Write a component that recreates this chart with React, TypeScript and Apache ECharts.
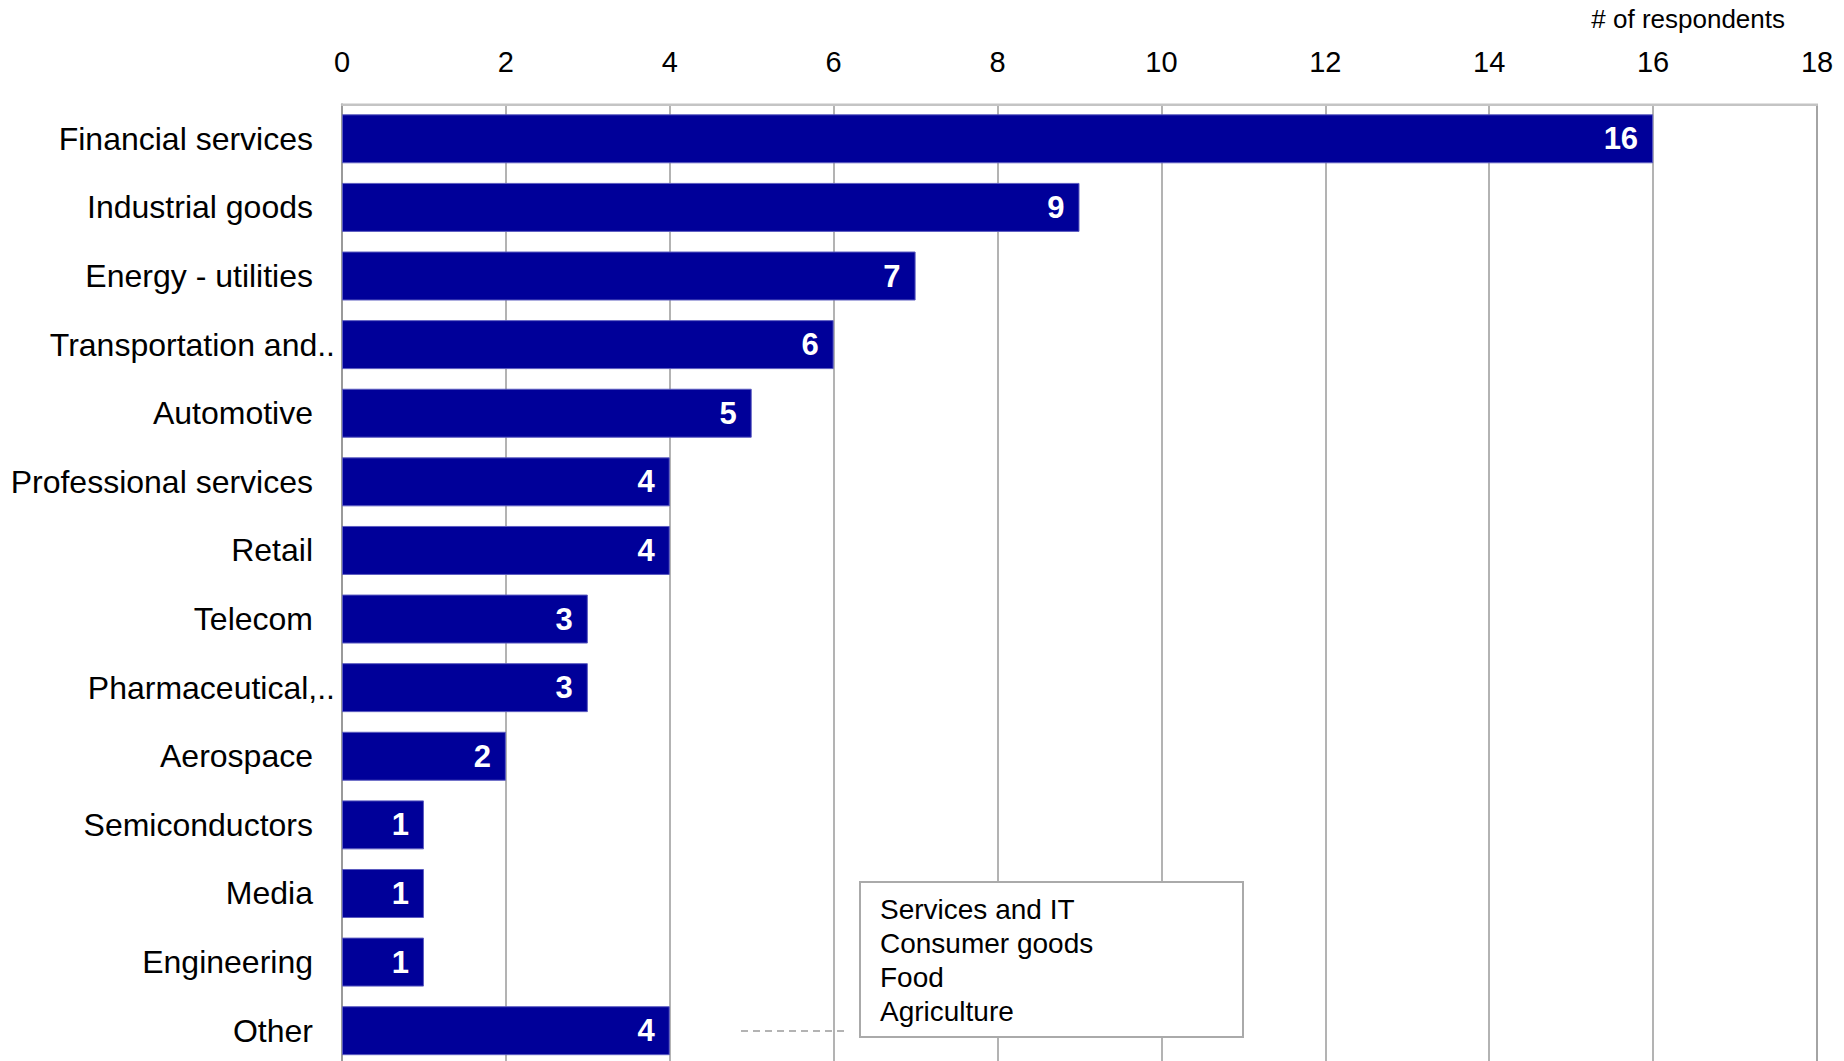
import React, { useEffect, useRef } from "react";
import * as echarts from "echarts";

const categories = [
  "Financial services",
  "Industrial goods",
  "Energy - utilities",
  "Transportation and..",
  "Automotive",
  "Professional services",
  "Retail",
  "Telecom",
  "Pharmaceutical,..",
  "Aerospace",
  "Semiconductors",
  "Media",
  "Engineering",
  "Other",
];
const values = [16, 9, 7, 6, 5, 4, 4, 3, 3, 2, 1, 1, 1, 4];
const otherBreakdown = ["Services and IT", "Consumer goods", "Food", "Agriculture"];
const axisTitle = "# of respondents";

const FONT = "Liberation Sans, Arial, sans-serif";

export default function App() {
  const ref = useRef<HTMLDivElement>(null);
  useEffect(() => {
    if (!ref.current) return;
    const chart = echarts.init(ref.current, undefined, { renderer: "svg" });
    chart.setOption({
      animation: false,
      backgroundColor: "#ffffff",
      textStyle: { fontFamily: FONT },
      title: {
        text: axisTitle,
        right: 54,
        top: 1,
        textStyle: { fontFamily: FONT, fontSize: 26, fontWeight: "normal", color: "#000" },
      },
      grid: {
        left: 342,
        right: 27,
        top: 104.5,
        bottom: 1,
        show: true,
        borderColor: "#c4c4c4",
        borderWidth: 2,
      },
      xAxis: {
        type: "value",
        position: "top",
        min: 0,
        max: 18,
        interval: 2,
        axisLine: { show: true, lineStyle: { color: "#c4c4c4", width: 2 } },
        axisTick: { show: false },
        axisLabel: { margin: 28, fontSize: 29, color: "#000", fontFamily: FONT },
        splitLine: { show: true, lineStyle: { color: "#9a9a9a", width: 1.5 } },
      },
      yAxis: {
        type: "category",
        data: categories,
        inverse: true,
        axisLine: { show: true, lineStyle: { color: "#9a9a9a", width: 2 } },
        axisTick: { show: false },
        axisLabel: {
          margin: 7,
          fontSize: 32,
          color: "#000",
          fontFamily: FONT,
          formatter: (v: string) => (v.endsWith("..") ? `{e|${v}}` : `{n|${v}}`),
          rich: {
            n: { fontSize: 32, color: "#000", fontFamily: FONT, padding: [0, 22, 0, 0] },
            e: { fontSize: 32, color: "#000", fontFamily: FONT },
          },
        },
      },
      series: [
        {
          type: "bar",
          data: values,
          barCategoryGap: "28.6%",
          itemStyle: { color: "#000099", borderColor: "#5c5cc0", borderWidth: 1 },
          label: {
            show: true,
            position: "insideRight",
            distance: 15,
            color: "#ffffff",
            fontWeight: "bold",
            fontSize: 31,
            fontFamily: FONT,
          },
        },
      ],
      graphic: [
        {
          type: "line",
          z: 100,
          shape: { x1: 741, y1: 1031, x2: 844, y2: 1031 },
          style: { stroke: "#9a9a9a", lineWidth: 1.5, lineDash: [7, 5] },
        },
        {
          type: "rect",
          z: 100,
          shape: { x: 860, y: 882, width: 383, height: 155 },
          style: { fill: "#ffffff", stroke: "#aaaaaa", lineWidth: 2 },
        },
        {
          type: "text",
          z: 101,
          x: 880,
          y: 892,
          style: {
            text: otherBreakdown.join("\n"),
            font: `28px ${FONT}`,
            lineHeight: 34,
            fill: "#000",
            verticalAlign: "top",
          },
        },
      ],
    });
    return () => chart.dispose();
  }, []);
  return (
    <div
      ref={ref}
      style={{ position: "fixed", left: 0, top: 0, width: 1844, height: 1066 }}
    />
  );
}
